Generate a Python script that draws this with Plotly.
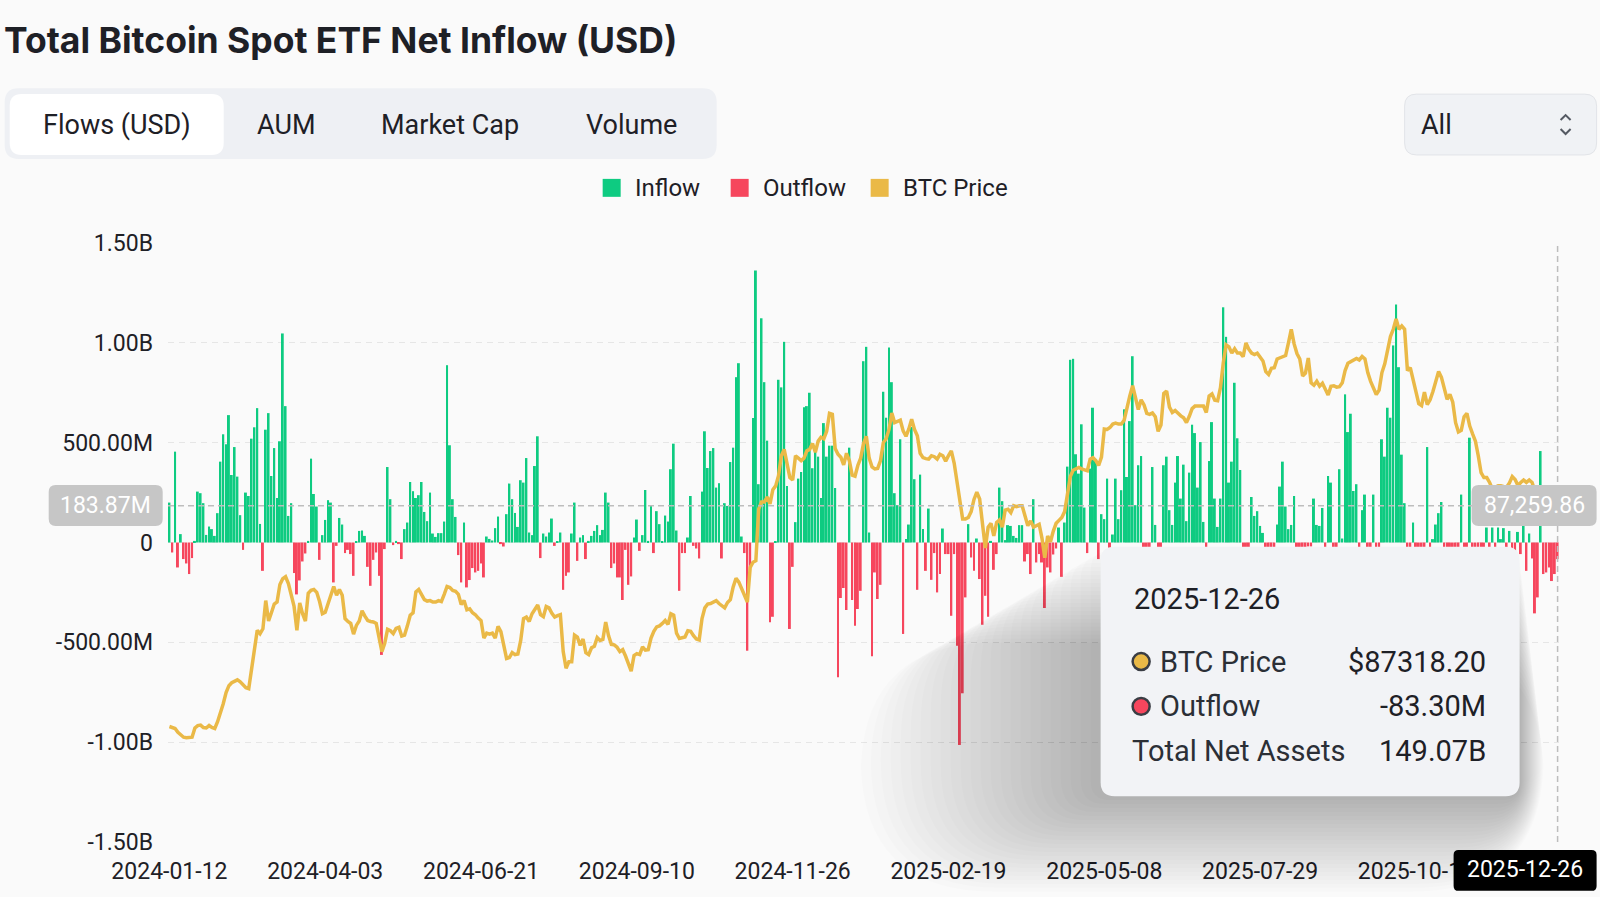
import pandas as pd
import plotly.graph_objects as go

# trading days of the US spot ETFs (NYSE calendar)
nyse_holidays = [
    "2024-01-15", "2024-02-19", "2024-03-29", "2024-05-27", "2024-06-19",
    "2024-07-04", "2024-09-02", "2024-11-28", "2024-12-25",
    "2025-01-01", "2025-01-09", "2025-01-20", "2025-02-17", "2025-04-18",
    "2025-05-26", "2025-06-19", "2025-07-04", "2025-09-01", "2025-11-27",
    "2025-12-25",
]
trade_dates = pd.bdate_range("2024-01-12", "2025-12-26", freq="C",
                             holidays=nyse_holidays).strftime("%Y-%m-%d").tolist()

tick_dates = ["2024-01-12", "2024-04-03", "2024-06-21", "2024-09-10", "2024-11-26",
              "2025-02-19", "2025-05-08", "2025-07-29", "2025-10-15"]

# daily net flow, million USD
flows_musd = [
    200, -50, 455, -125, 42, -83, -105, -158, -78, 8,
    255, 247, 197, 38, 80, 67, 33, 147, 405, 542,
    492, 638, 338, 478, 330, 137, -37, 250, 233, 520,
    577, 673, 93, -142, 565, 648, 333, 473, 223, 507,
    1047, 683, 133, 197, -153, -260, -190, -95, -55, 8,
    420, 243, 180, -87, 37, 113, 212, 200, -200, -17,
    123, 90, -53, -37, -58, -167, 3, 58, 60, 33,
    -122, -217, -87, -50, -167, -563, -33, 378, 217, -13,
    8, -8, -83, 67, 100, 303, 257, 223, 237, 303,
    153, 107, 250, 45, 28, 47, 47, 105, 888, 487,
    217, 128, -63, -200, 100, -225, -188, -128, -150, -142,
    -105, -175, 30, 18, 10, 72, 130, -8, -20, 142,
    295, 217, 148, 78, 312, 300, 423, 50, 37, 383,
    532, -78, 45, 30, 50, 120, -17, 5, 50, -237,
    -167, -150, 45, 200, -92, 25, 37, -83, 8, 33,
    58, 87, 37, 63, 250, 200, -128, -105, -175, -175,
    -288, -37, -212, -170, 25, 115, -42, 37, 263, 8,
    187, -53, 157, 92, 3, 135, 105, 367, 495, 60,
    -242, -53, -53, 25, 233, -17, -30, -80, 255, 557,
    373, 458, 473, 275, 297, -80, 197, 183, 403, 475,
    828, 898, 30, -53, -542, -117, 623, 1362, 292, 1123,
    803, 510, -400, -372, 3, 815, 777, 1005, 283, -433,
    -122, 102, 320, 353, 677, 683, 750, 372, 483, 430,
    223, 598, 430, 485, 485, 273, -675, -278, -228, -338,
    475, -288, -417, -333, -242, 908, 980, 50, -570, -150,
    -283, -212, 755, 625, 977, 803, 247, 187, 517, -458,
    17, 90, 578, 317, -237, 340, 67, -142, 170, -187,
    -53, -250, -158, 70, -58, -58, -367, -58, -517, -1014,
    -755, -275, 92, -75, -142, 20, -183, -412, -267, -372,
    8, -137, -58, 275, 207, 12, 87, 83, 33, 23,
    87, 87, -95, -58, -158, 217, -100, -58, -100, -328,
    -125, -150, -60, -30, 75, -172, 100, 380, 915, 920,
    442, 345, 592, 175, -53, 370, 675, 417, -83, 142,
    117, 320, -96, 40, 320, 117, 262, 667, 328, 608,
    933, 187, 387, 433, -158, -347, -200, 378, 88, -100,
    -90, 387, 430, 162, 88, 300, 433, 220, 390, 107,
    350, 590, 548, 275, 503, 103, -40, 408, 603, 220,
    78, 220, 1178, 1030, 300, 405, 800, 522, 363, -130,
    -90, -320, 228, 133, 157, 83, 48, -300, -320, -200,
    -130, 90, 280, 405, 180, 67, 88, 233, -120, -520,
    -310, -120, -20, -20, 220, 88, 83, 173, -100, 333,
    300, -150, -60, 367, 20, 742, 553, 645, 258, 292,
    -90, 162, 240, -120, -200, 240, -50, -220, 517, 430,
    675, 625, 987, 1192, 878, 440, 197, -450, -100, 100,
    -104, -536, -366, -100, 478, -40, 17, 90, 147, 203,
    -190, -470, -800, -570, -580, -200, 240, -860, -870, 525,
    -370, -900, -250, -350, -150, 75, -120, 75, -60, 75,
    17, 72, -40, 58, -50, -75, 53, -58, 83, -142,
    45, -80, -355, -275, 458, -158, -150, -125, -193, -158,
    -83.3,
]

# BTC daily price, thousand USD
btc_price_k = [
    41.8, 41.6, 41.4, 40.6, 40.0, 39.6, 39.5, 39.5, 39.6, 41.5,
    42.0, 42.1, 41.6, 41.5, 42.0, 41.6, 41.4, 42.8, 44.5, 46.5,
    48.8, 50.2, 50.8, 51.1, 51.4, 51.0, 50.4, 49.8, 49.6, 53.5,
    58.5, 61.6, 60.9, 61.9, 67.7, 63.5, 65.2, 67.0, 67.4, 71.0,
    72.2, 72.6, 71.2, 68.8, 66.5, 61.6, 67.2, 65.0, 63.5, 69.2,
    69.8, 70.0, 69.4, 67.5, 65.0, 65.3, 67.2, 69.0, 70.6, 68.8,
    70.0, 68.8, 64.0, 63.4, 63.0, 60.8, 62.6, 63.5, 65.6, 64.5,
    63.6, 63.4, 63.3, 63.0, 60.0, 57.2, 58.9, 61.8, 61.5, 60.9,
    62.0, 62.2, 60.4, 60.6, 62.5, 64.7, 65.2, 69.5, 70.0, 69.0,
    67.9, 67.6, 67.7, 67.4, 67.4, 67.7, 67.5, 69.0, 70.6, 70.4,
    69.8, 69.6, 69.0, 66.9, 67.7, 65.8, 66.0, 65.2, 64.8, 64.1,
    63.6, 60.0, 61.0, 60.8, 61.0, 60.0, 62.4, 61.3, 58.8, 55.8,
    56.0, 57.0, 56.6, 56.7, 59.5, 64.0, 64.3, 63.4, 65.0, 66.0,
    66.8, 64.8, 64.4, 66.5, 66.2, 65.1, 64.3, 64.6, 64.8, 57.2,
    53.8, 55.1, 55.1, 60.6, 60.2, 58.5, 59.8, 57.0, 56.6, 58.0,
    58.3, 60.1, 59.5, 59.7, 63.3, 60.5, 58.7, 58.6, 58.1, 57.2,
    57.6, 56.3, 54.5, 53.2, 56.4, 56.8, 56.6, 58.2, 57.5, 57.6,
    60.0, 61.4, 62.3, 62.5, 63.0, 63.6, 62.8, 65.0, 64.7, 61.0,
    59.9, 60.0, 60.2, 61.5, 61.4, 60.5, 59.8, 59.6, 64.0, 66.2,
    67.0, 67.1, 67.4, 67.7, 67.1, 66.7, 66.2, 67.3, 67.9, 70.5,
    72.3, 71.5, 70.0, 68.5, 67.4, 74.5, 75.6, 75.9, 86.5, 88.0,
    88.0, 89.0, 87.6, 90.5, 91.3, 93.4, 97.5, 98.8, 96.0, 93.0,
    92.5, 97.5, 97.0, 96.5, 97.0, 98.5, 98.8, 100.0, 98.2, 100.5,
    101.3, 101.0, 102.5, 106.2, 106.0, 99.0, 97.8, 97.2, 95.6, 98.0,
    96.5, 93.5, 93.3, 95.5, 97.0, 100.0, 101.5, 97.0, 95.2, 94.8,
    94.9, 96.5, 100.2, 101.0, 102.9, 106.3, 104.3, 104.6, 104.8, 102.6,
    101.5, 103.0, 105.0, 102.9, 101.6, 98.0, 97.1, 96.9, 96.8, 97.5,
    97.3, 96.8, 97.8, 97.5, 96.4, 97.5, 98.5, 96.0, 92.0, 87.6,
    84.5, 84.5, 84.8, 86.0, 88.5, 90.0, 88.6, 83.5, 78.5, 82.8,
    83.6, 81.0, 83.8, 84.3, 82.8, 86.3, 86.5, 85.8, 87.2, 87.0,
    87.2, 87.2, 84.8, 83.1, 84.1, 82.8, 83.1, 83.4, 80.5, 76.5,
    81.0, 79.8, 82.0, 83.6, 84.2, 84.8, 86.0, 89.5, 93.2, 94.5,
    94.9, 95.1, 94.8, 94.6, 94.4, 96.8, 97.1, 96.5, 95.5, 97.2,
    103.0, 102.9, 103.3, 104.0, 104.2, 104.0, 104.0, 104.8, 107.5, 109.8,
    111.9, 109.5, 107.0, 109.0, 108.0, 106.2, 106.0, 106.3, 105.5, 102.5,
    103.8, 110.3, 110.8, 107.5, 106.4, 106.8, 106.2, 105.7, 105.3, 104.3,
    105.6, 107.2, 107.7, 107.7, 107.7, 107.7, 106.4, 109.8, 110.2, 108.9,
    108.8, 111.5, 116.6, 120.3, 119.9, 118.6, 119.5, 118.6, 118.6, 117.9,
    120.7, 119.4, 118.6, 118.3, 118.6, 117.9, 117.0, 114.8, 114.2, 115.5,
    115.6, 117.4, 117.6, 117.9, 118.1, 120.7, 123.5, 120.5, 118.5, 117.4,
    113.9, 114.5, 117.6, 112.5, 112.0, 112.8, 111.8, 112.4, 111.0, 110.0,
    111.8, 111.9, 111.6, 111.7, 112.5, 115.0, 116.5, 116.8, 117.0, 117.5,
    117.2, 117.9, 117.4, 114.6, 112.8, 111.6, 110.1, 111.0, 114.6, 116.4,
    119.0, 122.0, 123.5, 125.6, 123.5, 124.2, 123.5, 115.0, 115.6, 113.3,
    111.2, 108.2, 107.8, 110.6, 108.0, 109.0, 110.7, 113.0, 114.8, 113.6,
    111.3, 109.1, 110.1, 108.5, 104.3, 102.4, 102.7, 105.5, 106.2, 103.6,
    102.0, 100.5, 97.5, 94.0, 93.0, 93.0, 92.0, 90.6, 91.0, 91.3,
    91.3, 91.1, 91.0, 91.9, 93.2, 92.6, 91.4, 92.0, 92.5, 92.0,
    92.5, 92.0, 90.4, 88.4, 88.5, 87.9, 86.4, 85.5, 88.2, 88.6,
    87.3182,
]

total_net_assets = "149.07B"
cursor_flow_label = "183.87M"
cursor_price_label = "87,259.86"

GREEN = "#0ecb81"
RED = "#f6465d"
GOLD = "#eab947"
INK = "#1e2026"
BG = "#fafafa"
FONT = "Roboto"

# plot area in page pixels
L, R, T, B = 168.3, 1559.4, 243.3, 844.0


def px(x):
    return (x - L) / (R - L)


def py(y):
    return (B - y) / (B - T)


def rbox(x0, y0, x1, y1, r):
    # rounded rectangle path, pixel bounds -> paper coords
    pts = [
        ("M", [(x0 + r, y0)]), ("L", [(x1 - r, y0)]), ("Q", [(x1, y0), (x1, y0 + r)]),
        ("L", [(x1, y1 - r)]), ("Q", [(x1, y1), (x1 - r, y1)]),
        ("L", [(x0 + r, y1)]), ("Q", [(x0, y1), (x0, y1 - r)]),
        ("L", [(x0, y0 + r)]), ("Q", [(x0, y0), (x0 + r, y0)]),
    ]
    s = ""
    for cmd, coords in pts:
        s += cmd + " ".join("%.5f,%.5f" % (px(a), py(b)) for a, b in coords) + " "
    return s + "Z"


usd = [v * 1e6 for v in flows_musd]
inflow = [v if v > 0 else None for v in usd]
outflow = [v if v < 0 else None for v in usd]
price = [p * 1000 for p in btc_price_k]

fig = go.Figure()
fig.add_trace(go.Bar(x=trade_dates, y=inflow, name="Inflow",
                     marker=dict(color=GREEN, line=dict(width=0))))
fig.add_trace(go.Bar(x=trade_dates, y=outflow, name="Outflow",
                     marker=dict(color=RED, line=dict(width=0))))
fig.add_trace(go.Scatter(x=trade_dates, y=price, name="BTC Price", yaxis="y2",
                         mode="lines", line=dict(color=GOLD, width=3.5)))

shapes = []
ann = []


def text(x, y, s, size, color=INK, anchor="left", family=FONT, weight=400):
    ann.append(dict(xref="paper", yref="paper", x=px(x), y=py(y), text=s,
                    showarrow=False, xanchor=anchor, yanchor="middle",
                    font=dict(family=family, size=size, color=color, weight=weight)))


def box(x0, y0, x1, y1, r, fill, line=None, opacity=1.0):
    shapes.append(dict(type="path", xref="paper", yref="paper", path=rbox(x0, y0, x1, y1, r),
                       fillcolor=fill, opacity=opacity, layer="above",
                       line=dict(width=1 if line else 0, color=line or fill)))


# header
text(2, 40, "Total Bitcoin Spot ETF Net Inflow (USD)", 35.5, family="Inter", weight=700)
box(5, 88, 717, 159, 14, "#eef0f4")
box(10, 94, 224, 155, 12, "#ffffff")
for label, cx in [("Flows (USD)", 117), ("AUM", 286), ("Market Cap", 450), ("Volume", 632)]:
    text(cx, 124.5, label, 27, anchor="center")
box(1405, 94, 1597, 155, 12, "#f0f2f5", line="#e2e4e8")
text(1419, 124.5, "All", 27)
shapes.append(dict(type="path", xref="paper", yref="paper", layer="above",
                   path="M%.5f,%.5f L%.5f,%.5f L%.5f,%.5f" % (px(1561), py(120), px(1566), py(115), px(1571), py(120)),
                   line=dict(color="#555a63", width=2)))
shapes.append(dict(type="path", xref="paper", yref="paper", layer="above",
                   path="M%.5f,%.5f L%.5f,%.5f L%.5f,%.5f" % (px(1561), py(129), px(1566), py(134), px(1571), py(129)),
                   line=dict(color="#555a63", width=2)))

# legend
for label, color, x0 in [("Inflow", GREEN, 603), ("Outflow", RED, 731), ("BTC Price", GOLD, 871)]:
    shapes.append(dict(type="rect", xref="paper", yref="paper", layer="above",
                       x0=px(x0), x1=px(x0 + 18), y0=py(197), y1=py(179),
                       fillcolor=color, line=dict(width=0)))
    text(x0 + 30, 188, label, 24)

# crosshair
shapes.append(dict(type="line", xref="paper", yref="y", x0=0, x1=1, y0=183.87e6, y1=183.87e6,
                   line=dict(color="#bdbdbd", width=1.5, dash="6px,4px"), layer="above"))
shapes.append(dict(type="line", xref="x", yref="paper", x0=trade_dates[-1], x1=trade_dates[-1],
                   y0=0, y1=1, line=dict(color="#bdbdbd", width=1.5, dash="6px,4px"), layer="above"))
box(49, 486, 163, 527, 7, "#c6c6c6")
text(106, 506.5, cursor_flow_label, 23, color="#ffffff", anchor="center")
box(1472, 486, 1597, 527, 7, "#c6c6c6")
text(1534.5, 506.5, cursor_price_label, 23, color="#ffffff", anchor="center")
box(1454, 852, 1597, 893, 5, "#000000")
text(1525.5, 872, trade_dates[-1], 23, color="#ffffff", anchor="center")

# tooltip with a soft shadow (stacked translucent boxes)
for k in range(1, 25):
    box(1101 - 10 * k, 548 + 4 * k, 1520 + 1 * k, 798 + 4 * k, 14 + 5 * k, "#000000", opacity=0.011)
box(1101, 548, 1520, 798, 14, "#f2f3f6")
text(1132, 600, trade_dates[-1], 29)
for y, color, label, value in [(663, GOLD, "BTC Price", "$%.2f" % price[-1]),
                               (708, RED, "Outflow", "%.2fM" % flows_musd[-1])]:
    shapes.append(dict(type="circle", xref="paper", yref="paper", layer="above",
                       x0=px(1133), x1=px(1150), y0=py(y + 8.5), y1=py(y - 8.5),
                       fillcolor=color, line=dict(color="#3a3d44", width=2.5)))
    text(1158, y, label, 29, color="#2b2f36")
    text(1488, y, value, 29, anchor="right")
text(1130, 753, "Total Net Assets", 29, color="#2b2f36")
text(1488, 753, total_net_assets, 29, anchor="right")

fig.update_layout(
    width=1600, height=897,
    margin=dict(l=L, r=1600 - R, t=T, b=897 - B, pad=0),
    paper_bgcolor=BG, plot_bgcolor=BG,
    barmode="overlay", bargap=0.3,
    showlegend=False, hovermode=False,
    font=dict(family=FONT, color=INK),
    shapes=shapes, annotations=ann,
    xaxis=dict(type="category", tickvals=tick_dates, ticktext=tick_dates, tickangle=0,
               showgrid=False, zeroline=False, showline=False, ticks="",
               ticklabelstandoff=13,
               tickfont=dict(size=23, color=INK), range=[-0.5, len(trade_dates) - 0.5]),
    yaxis=dict(range=[-1.5e9, 1.5e9],
               tickvals=[-1.5e9, -1e9, -5e8, 0, 5e8, 1e9, 1.5e9],
               ticktext=["-1.50B", "-1.00B", "-500.00M", "0", "500.00M", "1.00B", "1.50B"],
               showgrid=True, gridcolor="#e6e6e6", griddash="6px,5px", gridwidth=1.2,
               zeroline=False, showline=False, ticks="", ticklabelstandoff=14,
               tickfont=dict(size=23, color=INK)),
    yaxis2=dict(overlaying="y", side="right", range=[18050, 141250],
                showgrid=False, zeroline=False, showticklabels=False, showline=False),
)

fig.write_html("out.html", config={"displayModeBar": False},
               post_script="document.body.style.margin='0';")
